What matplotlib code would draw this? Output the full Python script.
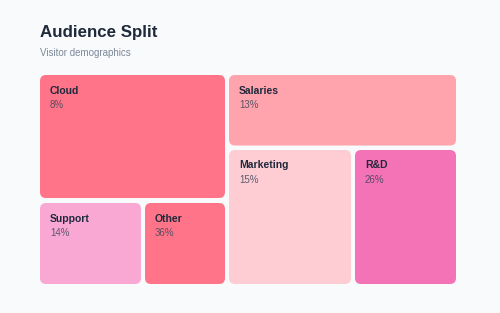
import matplotlib
matplotlib.use("Agg")
import matplotlib.pyplot as plt
from matplotlib.patches import FancyBboxPatch

plt.rcParams['font.family'] = ['Liberation Sans', 'DejaVu Sans']

title = "Audience Split"
subtitle = "Visitor demographics"
categories = ["Cloud", "Salaries", "Support", "Other", "Marketing", "R&D"]
values = [8, 13, 14, 36, 15, 26]
colors = ["#FF7489", "#FFA3AD", "#F9A8D4", "#FF7489", "#FECDD3", "#F472B6"]

# layout boxes (x0, y0, x1, y1) in pixel space
layout = [
    (40, 75, 225, 198),
    (229, 75, 456, 145.5),
    (40, 203, 141, 284),
    (145, 203, 225, 284),
    (229, 150, 351, 284),
    (355, 150, 456, 284),
]

W, H = 500, 313
fig = plt.figure(figsize=(W / 100, H / 100), dpi=100)
fig.patch.set_facecolor("#F8FAFC")
ax = fig.add_axes([0, 0, 1, 1])
ax.set_xlim(0, W)
ax.set_ylim(H, 0)
ax.axis("off")

for name, val, col, (x0, y0, x1, y1) in zip(categories, values, colors, layout):
    p = FancyBboxPatch((x0, y0), x1 - x0, y1 - y0,
                       boxstyle="round,pad=0,rounding_size=6",
                       facecolor=col, edgecolor="none")
    ax.add_patch(p)
    ax.text(x0 + 10, y0 + 15.5, name, fontsize=7.5, fontweight="bold",
            color="#1E293B", va="center", ha="left")
    ax.text(x0 + 10, y0 + 30, f"{val}%", fontsize=7,
            color="#334155", alpha=0.8, va="center", ha="left")

ax.text(40, 33, title, fontsize=12.2, fontweight="bold", color="#1E293B",
        va="center", ha="left")
ax.text(40, 53, subtitle, fontsize=7, color="#7C8799", va="center", ha="left")

fig.savefig("out.png", dpi=100, facecolor=fig.get_facecolor())
